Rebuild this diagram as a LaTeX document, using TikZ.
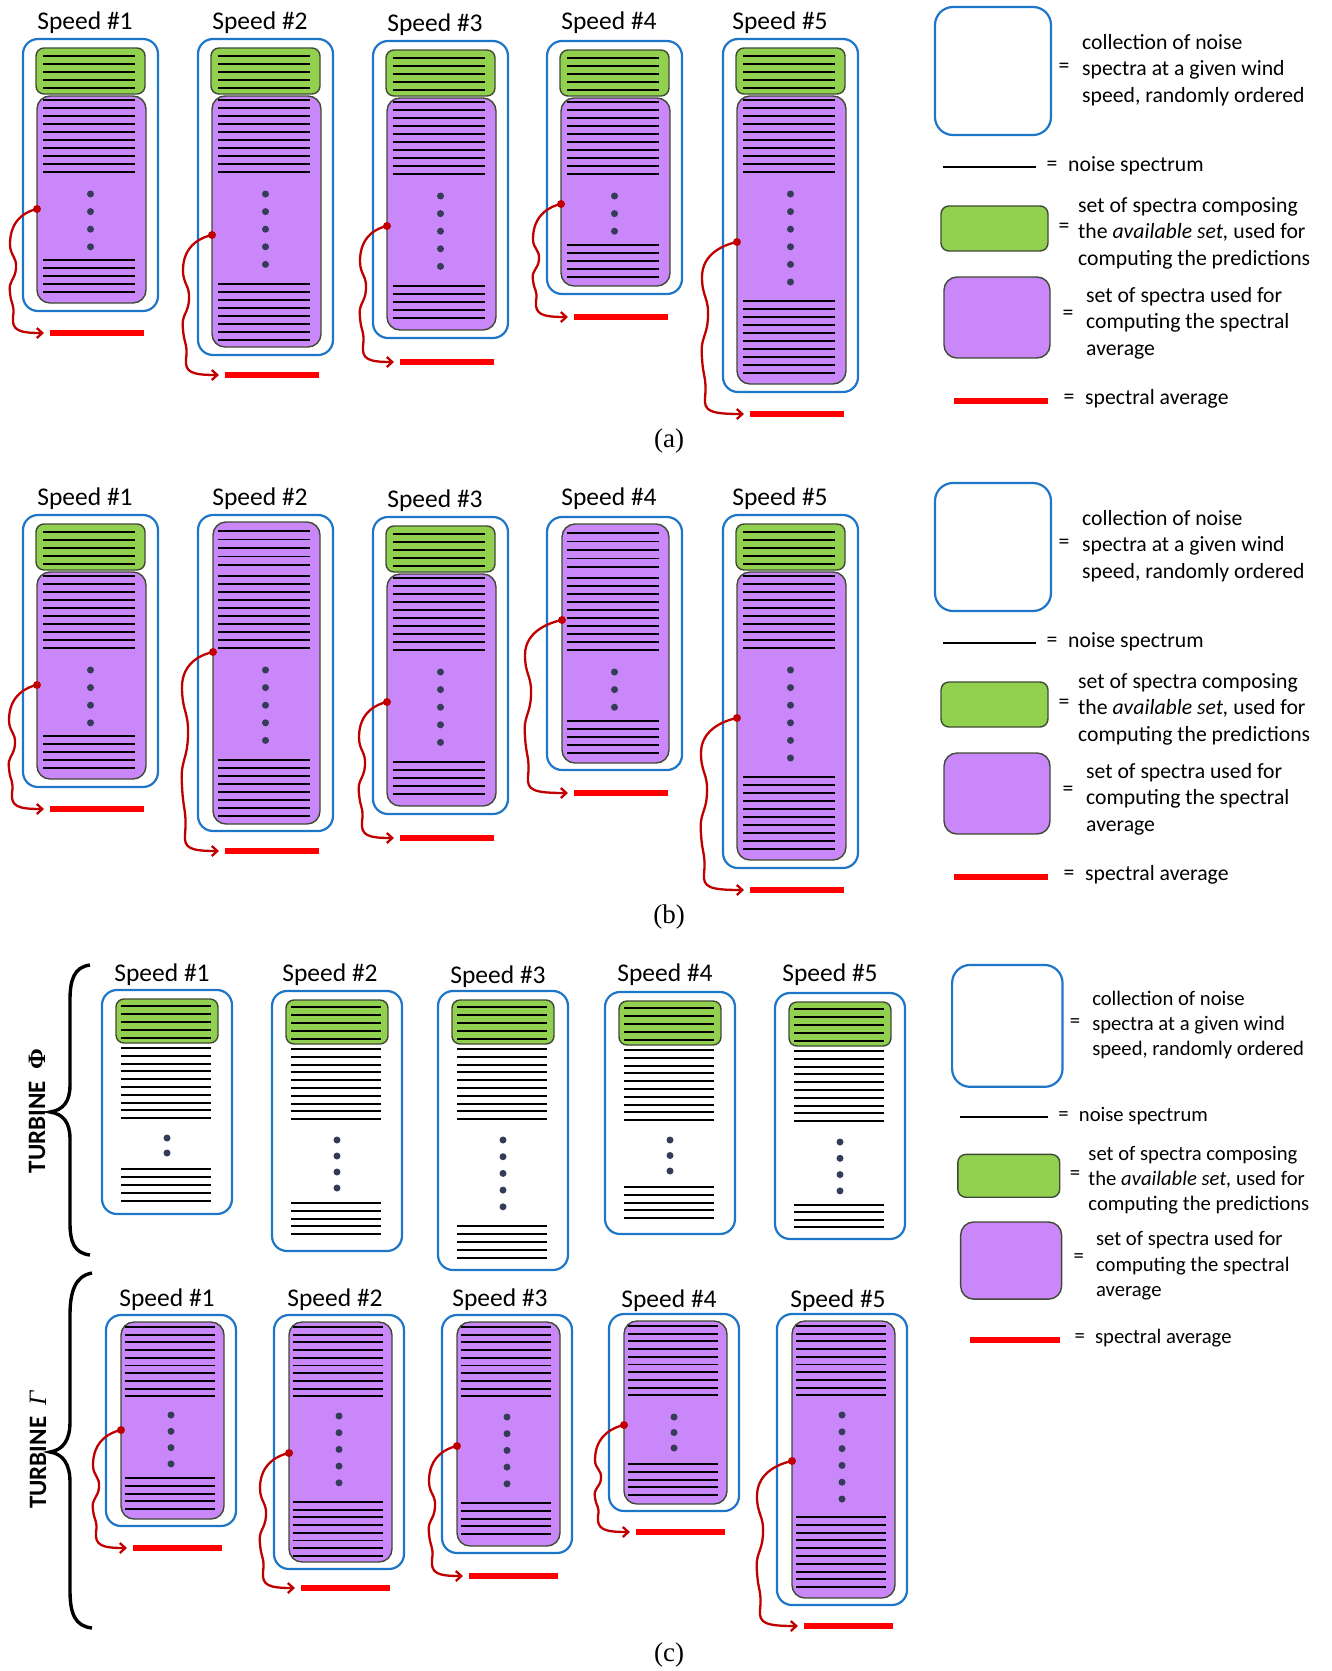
\documentclass[tikz,border=0pt]{standalone}
\usepackage{fontspec}
\setmainfont{Carlito}
\newfontfamily\serifA{Liberation Serif}
\usetikzlibrary{arrows.meta}
\definecolor{bblue}{RGB}{30,118,200}
\definecolor{ggreen}{RGB}{146,208,80}
\definecolor{ppurple}{RGB}{201,135,249}
\definecolor{bord}{RGB}{62,74,52}
\definecolor{dred}{RGB}{192,0,0}
\definecolor{rred}{RGB}{255,0,0}
\definecolor{dotc}{RGB}{52,60,88}
\tikzset{
 bluebox/.style={draw=bblue, line width=2.2pt, rounded corners=15pt, inner sep=0pt, outer sep=0pt},
 greenbox/.style={draw=bord, fill=ggreen, line width=1.4pt, rounded corners=8pt, inner sep=0pt, outer sep=0pt},
 purplebox/.style={draw=bord, fill=ppurple, line width=1.4pt, rounded corners=13pt, inner sep=0pt, outer sep=0pt},
 spec/.style={line width=1.9pt, black},
 avgbar/.style={line width=6pt, rred},
 wiggle/.style={line width=2.3pt, dred, -{Straight Barb[length=5.5pt,width=10pt]}},
 speedlab/.style={font=\fontsize{25.5pt}{30pt}\selectfont, inner sep=0pt, anchor=base},
 leg/.style={font=\fontsize{21.7pt}{26.6pt}\selectfont, inner sep=0pt, align=left},
 captext/.style={font=\serifA\fontsize{27pt}{30pt}\selectfont, inner sep=0pt},
 bracestyle/.style={line width=3.4pt, black},
 turb/.style={rotate=90, font=\bfseries\fontsize{25pt}{30pt}\selectfont, inner sep=0pt},
}
\pgfkeys{/col/.cd,
 id/.store in=\cId, x/.store in=\cX, y/.store in=\cY, w/.store in=\cW, yb/.store in=\cYB,
 kind/.store in=\cK, nd/.store in=\cND, ds/.store in=\cDS, dd/.store in=\cDD,
 bs/.store in=\cBS, nb/.store in=\cNB, ls/.store in=\cLS, rs/.store in=\cRS, rb/.store in=\cRB,
 lab/.store in=\cLab, lx/.store in=\cLX, ly/.store in=\cLY, L/.store in=\cL}
\newcommand\drawcol[1]{%
 \pgfkeys{/col/.cd, w=135, dd=17.6, ls=8, rs=0, L=-15, #1}%
 \pgfmathsetmacro\cH{\cYB-\cY}%
 \pgfmathsetmacro\cCX{\cX+\cW/2}%
 \pgfmathsetmacro\cCY{(\cY+\cYB)/2}%
 \node[speedlab] (\cId-lab) at (\cLX,\cLY) {Speed \#\cLab};
 \node[bluebox, minimum width=\cW pt, minimum height=\cH pt] (\cId-blue) at (\cCX,\cCY) {};
 \ifcase\cK\relax
  % kind 0: green + purple
  \pgfmathsetmacro\gw{\cW-26}%
  \node[greenbox, minimum width=\gw pt, minimum height=46pt] (\cId-green) at (\cCX,{\cY+32}) {};
  \pgfmathsetmacro\pw{\cW-26}\pgfmathsetmacro\ph{\cYB-8-\cY-57}%
  \node[purplebox, minimum width=\pw pt, minimum height=\ph pt] (\cId-purple) at ({\cX+14+\pw/2},{(\cY+57+\cYB-8)/2}) {};
  \pgfmathsetmacro\la{\cX+20}\pgfmathsetmacro\lb{\cX+\cW-23}\pgfmathsetmacro\cPX{\cX+14}%
  \foreach \k in {0,...,4} \draw[spec] (\la,{\cY+17+8*\k}) -- (\lb,{\cY+17+8*\k});
  \foreach \k in {0,...,9} \draw[spec] (\la,{\cY+61+8*\k}) -- (\lb,{\cY+61+8*\k});
 \or
  % kind 1: purple only, 15 lines
  \pgfmathsetmacro\pw{\cW-28}\pgfmathsetmacro\ph{\cYB-\cY-14}%
  \node[purplebox, minimum width=\pw pt, minimum height=\ph pt] (\cId-purple) at ({\cX+15+\pw/2},\cCY) {};
  \pgfmathsetmacro\la{\cX+20}\pgfmathsetmacro\lb{\cX+\cW-23}\pgfmathsetmacro\cPX{\cX+15}%
  \foreach \k in {0,...,4} \draw[spec] (\la,{\cY+16+8.5*\k}) -- (\lb,{\cY+16+8.5*\k});
  \foreach \k in {0,...,9} \draw[spec] (\la,{\cY+61+8*\k}) -- (\lb,{\cY+61+8*\k});
 \or
  % kind 2: green + plain lines
  \pgfmathsetmacro\gw{\cW-28}%
  \node[greenbox, minimum width=\gw pt, minimum height=44pt] (\cId-green) at (\cCX,{\cY+31}) {};
  \pgfmathsetmacro\la{\cX+19}\pgfmathsetmacro\lb{\cX+\cW-21}\pgfmathsetmacro\cPX{\cX+15}%
  \foreach \k in {0,...,4} \draw[spec] (\la,{\cY+16+8*\k}) -- (\lb,{\cY+16+8*\k});
  \foreach \k in {0,...,9} \draw[spec] (\la,{\cY+58+7.8*\k}) -- (\lb,{\cY+58+7.8*\k});
 \or
  % kind 3: purple only, 10 lines
  \pgfmathsetmacro\pw{\cW-27}\pgfmathsetmacro\ph{\cYB-\cY-14}%
  \node[purplebox, minimum width=\pw pt, minimum height=\ph pt] (\cId-purple) at ({\cX+15+\pw/2},\cCY) {};
  \pgfmathsetmacro\la{\cX+19}\pgfmathsetmacro\lb{\cX+\cW-21}\pgfmathsetmacro\cPX{\cX+15}%
  \foreach \k in {0,...,9} \draw[spec] (\la,{\cY+12+7.7*\k}) -- (\lb,{\cY+12+7.7*\k});
 \fi
 \foreach \k in {1,...,\cNB} \draw[spec] (\la,{\cBS+\cLS*(\k-1)}) -- (\lb,{\cBS+\cLS*(\k-1)});
 \foreach \k in {1,...,\cND} \fill[dotc] (\cCX,{\cDS+\cDD*(\k-1)}) circle[radius=3.5pt];
 \ifdim\cRS pt>0pt
  \pgfmathsetmacro\yA{\cRS+35}\pgfmathsetmacro\yB{\cRB-16}%
  \pgfmathsetmacro\hh{(\yB-\yA)/3}\pgfmathsetmacro\LL{\cX+\cL}%
  \coordinate (\cId-s) at (\cPX,\cRS);
  \coordinate (\cId-e) at ({\cX+21},\cRB);
  \coordinate (\cId-bar) at ({\cX+27},\cRB);
  \draw[wiggle] (\cId-s) .. controls ({\cPX-10},{\cRS+2}) and (\LL,{\cRS+10}) .. (\LL,\yA)
    .. controls (\LL,{\yA+0.5*\hh}) and ({\LL+7},{\yA+0.5*\hh}) .. ({\LL+6},{\yA+\hh})
    .. controls ({\LL+5},{\yA+1.5*\hh}) and ({\LL-2},{\yA+1.5*\hh}) .. (\LL,{\yA+2*\hh})
    .. controls ({\LL+1},{\yA+2.5*\hh}) and ({\LL+5},{\yA+2.5*\hh}) .. ({\LL+3},\yB)
    .. controls ({\LL+2},{\cRB-3}) and ({\LL+8},\cRB) .. (\cId-e);
  \fill[dred] (\cId-s) circle[radius=4pt];
  \draw[avgbar] (\cId-bar) -- ({\cX+\cW-14},\cRB);
 \fi
}
\newcommand\legendblock[1]{%
 \node[bluebox, rounded corners=18pt, minimum width=116pt, minimum height=128pt] (#1-blue) at (993,71) {};
 \node[leg] (#1-eq1) at (1064,68) {=};
 \node[leg, anchor=west] (#1-t1) at (1082,70) {collection of noise\\spectra at a given wind\\speed, randomly ordered};
 \draw[line width=1.6pt] (943,167) -- (1036,167);
 \node[leg] (#1-eq2) at (1052,166) {=};
 \node[leg, anchor=west] (#1-t2) at (1068,166) {noise spectrum};
 \node[greenbox, minimum width=107pt, minimum height=45pt] (#1-green) at (994.5,228.5) {};
 \node[leg] (#1-eq3) at (1064,228) {=};
 \node[leg, anchor=west] (#1-t3) at (1078,233) {set of spectra composing\\the \textit{available set,} used for\\computing the predictions};
 \node[purplebox, minimum width=106pt, minimum height=81pt] (#1-purple) at (997,317.5) {};
 \node[leg] (#1-eq4) at (1068,315) {=};
 \node[leg, anchor=west] (#1-t4) at (1086,323) {set of spectra used for\\computing the spectral\\average};
 \draw[avgbar] (954,401) -- (1048,401);
 \node[leg] (#1-eq5) at (1069,399) {=};
 \node[leg, anchor=west] (#1-t5) at (1085,399) {spectral average};
}
\begin{document}
\begin{tikzpicture}[x=1pt,y=-1pt]
\useasboundingbox (0,0) rectangle (1331,1671);
% panel (a)
\drawcol{id=a1,x=23,y=39,yb=311,kind=0,nd=4,ds=194,bs=260,nb=5,rs=209,rb=333,lab=1,lx=85,ly=29,L=-13}
\drawcol{id=a2,x=198,y=39,yb=355,kind=0,nd=5,ds=194,bs=284,nb=8,rs=235,rb=375,lab=2,lx=260,ly=29}
\drawcol{id=a3,x=373,y=41,yb=338,kind=0,nd=5,ds=196,bs=286,nb=5,rs=226,rb=362,lab=3,lx=435,ly=31,L=-13}
\drawcol{id=a4,x=547,y=41,yb=294,kind=0,nd=3,ds=196,bs=245,nb=5,rs=204,rb=317,lab=4,lx=609,ly=29,L=-14}
\drawcol{id=a5,x=723,y=39,yb=392,kind=0,nd=6,ds=194,bs=301,nb=10,rs=242,rb=414,lab=5,lx=780,ly=29,L=-21}
\legendblock{la}
\node[captext] (capa) at (669,441) {(a)};
% panel (b)
\drawcol{id=b1,x=23,y=515,yb=787,kind=0,nd=4,ds=670,bs=736,nb=5,rs=685,rb=809,lab=1,lx=85,ly=505,L=-14}
\drawcol{id=b2,x=198,y=515,yb=831,kind=1,nd=5,ds=670,bs=760,nb=8,rs=652,rb=851,lab=2,lx=260,ly=505,L=-16}
\drawcol{id=b3,x=373,y=517,yb=814,kind=0,nd=5,ds=672,bs=762,nb=5,rs=702,rb=838,lab=3,lx=435,ly=507,L=-14}
\drawcol{id=b4,x=547,y=517,yb=770,kind=1,nd=3,ds=672,bs=721,nb=5,rs=620,rb=793,lab=4,lx=609,ly=505,L=-22}
\drawcol{id=b5,x=723,y=515,yb=868,kind=0,nd=6,ds=670,bs=777,nb=10,rs=718,rb=890,lab=5,lx=780,ly=505,L=-22}
\begin{scope}[shift={(0,476)}]
\legendblock{lb}
\end{scope}
\node[captext] (capb) at (669,917) {(b)};
% panel (c) turbine Phi
\draw[bracestyle] (90,965) .. controls (74,967) and (70,980) .. (70,1000) -- (70,1085) .. controls (70,1102) and (63,1110) .. (50,1112) .. controls (63,1114) and (70,1122) .. (70,1139) -- (70,1222) .. controls (70,1242) and (74,1253) .. (90,1255);
\node[turb] (tphi) at (37,1111) {TURBINE\ \ {\serifA\bfseries Φ}};
\drawcol{id=p1,x=102,y=990,yb=1214,w=130,kind=2,nd=2,ds=1138,dd=15,bs=1169,nb=5,ls=7.9,lab=1,lx=162,ly=981}
\drawcol{id=p2,x=272,y=991,yb=1251,w=130,kind=2,nd=4,ds=1140,dd=16,bs=1203,nb=5,ls=7.8,lab=2,lx=330,ly=981}
\drawcol{id=p3,x=438,y=991,yb=1270,w=130,kind=2,nd=5,ds=1140,dd=16.7,bs=1226,nb=5,ls=7.9,lab=3,lx=498,ly=983}
\drawcol{id=p4,x=605,y=992,yb=1234,w=130,kind=2,nd=3,ds=1140,dd=15.5,bs=1187,nb=5,ls=7.8,lab=4,lx=665,ly=981}
\drawcol{id=p5,x=775,y=993,yb=1239,w=130,kind=2,nd=4,ds=1142,dd=16.3,bs=1205,nb=4,ls=7.4,lab=5,lx=830,ly=981}
% turbine Gamma
\draw[bracestyle] (92,1273) .. controls (75,1276) and (70,1292) .. (70,1315) -- (70,1422) .. controls (70,1440) and (63,1450) .. (50,1452) .. controls (63,1454) and (70,1464) .. (70,1482) -- (70,1590) .. controls (70,1614) and (75,1626) .. (92,1628);
\node[turb] (tgam) at (38,1450) {TURBINE\ \ {\serifA\itshape\mdseries Γ}};
\drawcol{id=g1,x=106,y=1315,yb=1526,w=130,kind=3,nd=4,ds=1415,dd=16.3,bs=1478,nb=5,ls=7.8,rs=1430,rb=1548,lab=1,lx=167,ly=1306,L=-13}
\drawcol{id=g2,x=274,y=1315,yb=1569,w=130,kind=3,nd=5,ds=1416,dd=16.7,bs=1502,nb=8,ls=7.7,rs=1453,rb=1588,lab=2,lx=335,ly=1306,L=-14}
\drawcol{id=g3,x=442,y=1315,yb=1553,w=130,kind=3,nd=5,ds=1417,dd=16.7,bs=1503,nb=5,ls=7.8,rs=1446,rb=1576,lab=3,lx=500,ly=1306,L=-13}
\drawcol{id=g4,x=609,y=1314,yb=1511,w=130,kind=3,nd=3,ds=1417,dd=15.5,bs=1464,nb=5,ls=7.8,rs=1425,rb=1532,lab=4,lx=669,ly=1307,L=-14}
\drawcol{id=g5,x=777,y=1314,yb=1605,w=130,kind=3,nd=6,ds=1415,dd=16.8,bs=1517,nb=10,ls=7.8,rs=1461,rb=1626,lab=5,lx=838,ly=1307,L=-20}
\begin{scope}[shift={(62,958.3)}, scale=0.952, transform shape]
\legendblock{lc}
\end{scope}
\node[captext] (capc) at (669,1655) {(c)};
\end{tikzpicture}
\end{document}
